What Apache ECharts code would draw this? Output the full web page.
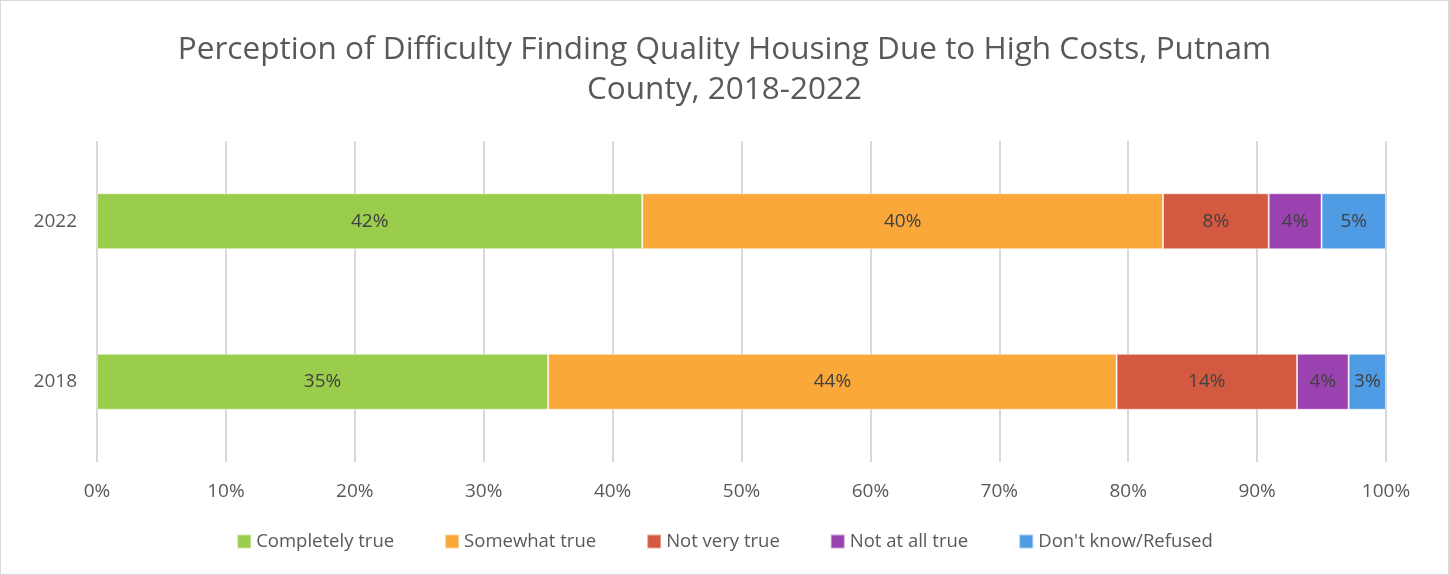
<!DOCTYPE html>
<html>
<head>
<meta charset="utf-8">
<script src="https://cdn.jsdelivr.net/npm/echarts@6/dist/echarts.min.js"></script>
<style>
  html, body { margin: 0; padding: 0; background: #fff; }
  #chart { width: 1449px; height: 575px; box-sizing: border-box; border: 1px solid #d9d9d9; }
</style>
</head>
<body>
<div id="chart"></div>
<script>
  // categories (bottom to top)
  var years = ['2018', '2022'];
  var seriesNames = ['Completely true', 'Somewhat true', 'Not very true', 'Not at all true', "Don't know/Refused"];
  var colors = ['#9BCD4C', '#FBA83A', '#D35A41', '#9A42B0', '#4F9CE4'];
  // shares per year, in percent [2018, 2022]
  var completelyTrue = [35.0, 42.3];
  var somewhatTrue = [44.1, 40.4];
  var notVeryTrue = [14.0, 8.2];
  var notAtAllTrue = [4.0, 4.1];
  var dontKnow = [2.9, 5.0];
  var xTicks = [0, 10, 20, 30, 40, 50, 60, 70, 80, 90, 100];

  var values = [completelyTrue, somewhatTrue, notVeryTrue, notAtAllTrue, dontKnow];
  var font = '"Open Sans", Lato, sans-serif';

  var chart = echarts.init(document.getElementById('chart'));
  var series = seriesNames.map(function (name, i) {
    return {
      name: name,
      type: 'bar',
      stack: 'total',
      barWidth: 56,
      data: values[i],
      itemStyle: { color: colors[i], borderColor: 'rgba(255,255,255,0.5)', borderWidth: 1 },
      label: {
        show: true,
        position: 'inside',
        color: '#404040',
        fontFamily: font,
        fontSize: 19,
        formatter: function (p) { return Math.round(p.value) + '%'; }
      }
    };
  });

  chart.setOption({
    animation: false,
    textStyle: { fontFamily: font },
    title: {
      text: 'Perception of Difficulty Finding Quality Housing Due to High Costs, Putnam\nCounty, 2018-2022',
      left: 'center',
      top: 24,
      textStyle: { fontFamily: font, fontSize: 31.5, fontWeight: 'normal', color: '#595959', lineHeight: 40 }
    },
    legend: {
      bottom: 18,
      left: 'center',
      itemWidth: 14,
      itemHeight: 14,
      itemGap: 50,
      icon: 'rect',
      textStyle: { fontFamily: font, fontSize: 18.5, color: '#595959' },
      data: seriesNames
    },
    grid: { left: 96, right: 62, top: 140, bottom: 112 },
    xAxis: {
      type: 'value',
      min: 0,
      max: 100,
      interval: 10,
      axisLine: { show: false },
      axisTick: { show: false },
      splitLine: { lineStyle: { color: '#d9d9d9', width: 2 } },
      axisLabel: {
        fontFamily: font, fontSize: 19, color: '#595959', margin: 20,
        customValues: xTicks,
        formatter: '{value}%'
      }
    },
    yAxis: {
      type: 'category',
      data: years,
      axisLine: { show: false },
      axisTick: { show: false },
      axisLabel: { fontFamily: font, fontSize: 19, color: '#595959', margin: 20 }
    },
    series: series
  });
</script>
</body>
</html>
